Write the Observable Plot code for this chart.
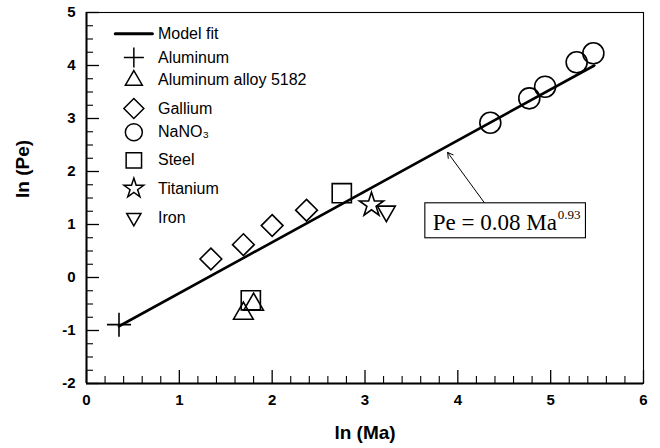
<!DOCTYPE html>
<html>
<head>
<meta charset="utf-8">
<script src="https://cdn.jsdelivr.net/npm/d3@7"></script>
<script src="https://cdn.jsdelivr.net/npm/@observablehq/plot@0.6"></script>
<style>
  html, body { margin: 0; padding: 0; background: #fff; }
  #chart { width: 660px; height: 448px; }
</style>
</head>
<body>
<div id="chart"></div>
<script>
// ---- data ----
const fitX = [0.35, 5.47];
const fitY = [-0.92, 4.0];
const aluminumX = [0.35];
const aluminumY = [-0.89];
const alloyX = [1.69, 1.80];
const alloyY = [-0.68, -0.51];
const galliumX = [1.34, 1.69, 2.0, 2.37];
const galliumY = [0.35, 0.62, 0.98, 1.27];
const nano3X = [4.35, 4.77, 4.94, 5.28, 5.46];
const nano3Y = [2.92, 3.38, 3.60, 4.06, 4.23];
const steelX = [1.77, 2.75];
const steelY = [-0.43, 1.59];
const titaniumX = [3.07];
const titaniumY = [1.37];
const ironX = [3.23];
const ironY = [1.25];

const legendLabels = ["Model fit", "Aluminum", "Aluminum alloy 5182", "Gallium", "NaNO\u2083", "Steel", "Titanium", "Iron"];
const legendRowY = [4.60, 4.15, 3.72, 3.19, 2.74, 2.21, 1.68, 1.13];

const xTicks = [0, 1, 2, 3, 4, 5, 6];
const yTicks = [-2, -1, 0, 1, 2, 3, 4, 5];
const xMinor = d3.range(0, 6.001, 0.2).map(v => +v.toFixed(2)).filter(v => !xTicks.includes(v));
const yMinor = d3.range(-2, 5.001, 0.25).filter(v => !yTicks.includes(v));

const equationText = "Pe = 0.08 Ma";
const equationExp = "0.93";

// ---- series styling ----
const series = [
  {xs: aluminumX, ys: aluminumY, symbol: "plus", r: 7.8, lr: 6.5, rotate: 0},
  {xs: alloyX, ys: alloyY, symbol: "triangle2", r: 9.4, lr: 8.1, rotate: 0},
  {xs: galliumX, ys: galliumY, symbol: "diamond2", r: 9.8, lr: 9, rotate: 0},
  {xs: nano3X, ys: nano3Y, symbol: "circle", r: 10.5, lr: 8.5, rotate: 0},
  {xs: steelX, ys: steelY, symbol: "square2", r: 12.2, lr: 9.8, rotate: 0},
  {xs: titaniumX, ys: titaniumY, symbol: "star", r: 7.6, lr: 6.2, rotate: 0},
  {xs: ironX, ys: ironY, symbol: "triangle2", r: 8.5, lr: 6.8, rotate: 180}
];

const W = 660, H = 448, mL = 86, mR = 17, mT = 12, mB = 65;
const fw = W - mL - mR, fh = H - mT - mB;
const legSymX = 0.51, legLineX = [0.31, 0.71], legTextX = 0.77;

const marks = [];
// inward ticks
marks.push(Plot.tickX(xTicks, {x: d => d, insetTop: fh - 13, stroke: "#000", strokeWidth: 1.3}));
marks.push(Plot.tickX(xMinor, {x: d => d, insetTop: fh - 7, stroke: "#000", strokeWidth: 1.1}));
marks.push(Plot.tickY(yTicks, {y: d => d, insetRight: fw - 13, stroke: "#000", strokeWidth: 1.3}));
marks.push(Plot.tickY(yMinor, {y: d => d, insetRight: fw - 7, stroke: "#000", strokeWidth: 1.1}));
// frame
marks.push(Plot.frame({stroke: "#000", strokeWidth: 1.1}));
marks.push(Plot.ruleX([0], {stroke: "#000", strokeWidth: 2}));
marks.push(Plot.ruleY([-2], {stroke: "#000", strokeWidth: 2}));
// tick labels
marks.push(Plot.text(xTicks, {x: d => d, frameAnchor: "bottom", dy: 21, text: d => String(d), fontSize: 15, fontWeight: "bold", fill: "#000"}));
marks.push(Plot.text(yTicks, {y: d => d, frameAnchor: "left", dx: -11, textAnchor: "end", text: d => String(d), fontSize: 15, fontWeight: "bold", fill: "#000"}));
// axis titles
marks.push(Plot.text(["ln (Ma)"], {frameAnchor: "bottom", dy: 55, fontSize: 19, fontWeight: "bold", fill: "#000"}));
marks.push(Plot.text(["ln (Pe)"], {frameAnchor: "left", dx: -64, rotate: -90, fontSize: 19, fontWeight: "bold", fill: "#000"}));

// model fit
marks.push(Plot.line(fitX.map((x, i) => ({x, y: fitY[i]})), {x: "x", y: "y", stroke: "#000", strokeWidth: 2.6}));

// data symbols
for (const s of series) {
  marks.push(Plot.dot(s.xs.map((x, i) => ({x, y: s.ys[i]})), {
    x: "x", y: "y", symbol: s.symbol, r: s.r, rotate: s.rotate,
    stroke: "#000", strokeWidth: 1.6, fill: "none"
  }));
}

// legend
marks.push(Plot.line(legLineX.map(x => ({x, y: legendRowY[0]})), {x: "x", y: "y", stroke: "#000", strokeWidth: 3}));
series.forEach((s, i) => {
  marks.push(Plot.dot([legendRowY[i + 1]], {
    x: () => legSymX, y: d => d, symbol: s.symbol, r: s.lr, rotate: s.rotate,
    stroke: "#000", strokeWidth: 1.5, fill: "none"
  }));
});
marks.push(Plot.text(legendLabels, {
  x: () => legTextX, y: (d, i) => legendRowY[i], text: d => d,
  textAnchor: "start", fontSize: 16, fill: "#000"
}));

// annotation
marks.push(Plot.arrow([{x1: 4.29, y1: 1.40, x2: 3.89, y2: 2.36}], {
  x1: "x1", y1: "y1", x2: "x2", y2: "y2", stroke: "#000", strokeWidth: 1, headLength: 9, bend: 0
}));
marks.push(Plot.rect([{x1: 3.65, x2: 5.38, y1: 0.74, y2: 1.40}], {
  x1: "x1", x2: "x2", y1: "y1", y2: "y2", fill: "#fff", stroke: "#000", strokeWidth: 1.1
}));
marks.push(Plot.text([equationText], {
  x: () => 3.73, y: () => 1.03, text: d => d, textAnchor: "start",
  fontFamily: "Liberation Serif, Times New Roman, serif", fontSize: 23, fill: "#000"
}));
marks.push(Plot.text([equationExp], {
  x: () => 5.075, y: () => 1.03, text: d => d, textAnchor: "start", dy: -8,
  fontFamily: "Liberation Serif, Times New Roman, serif", fontSize: 13, fill: "#000"
}));

const chart = Plot.plot({
  width: W, height: H,
  marginLeft: mL, marginRight: mR, marginTop: mT, marginBottom: mB,
  x: {domain: [0, 6], axis: null},
  y: {domain: [-2, 5], axis: null},
  style: {fontFamily: "Liberation Sans, Arial, sans-serif", background: "#fff", color: "#000"},
  marks
});
document.getElementById("chart").appendChild(chart);
</script>
</body>
</html>
